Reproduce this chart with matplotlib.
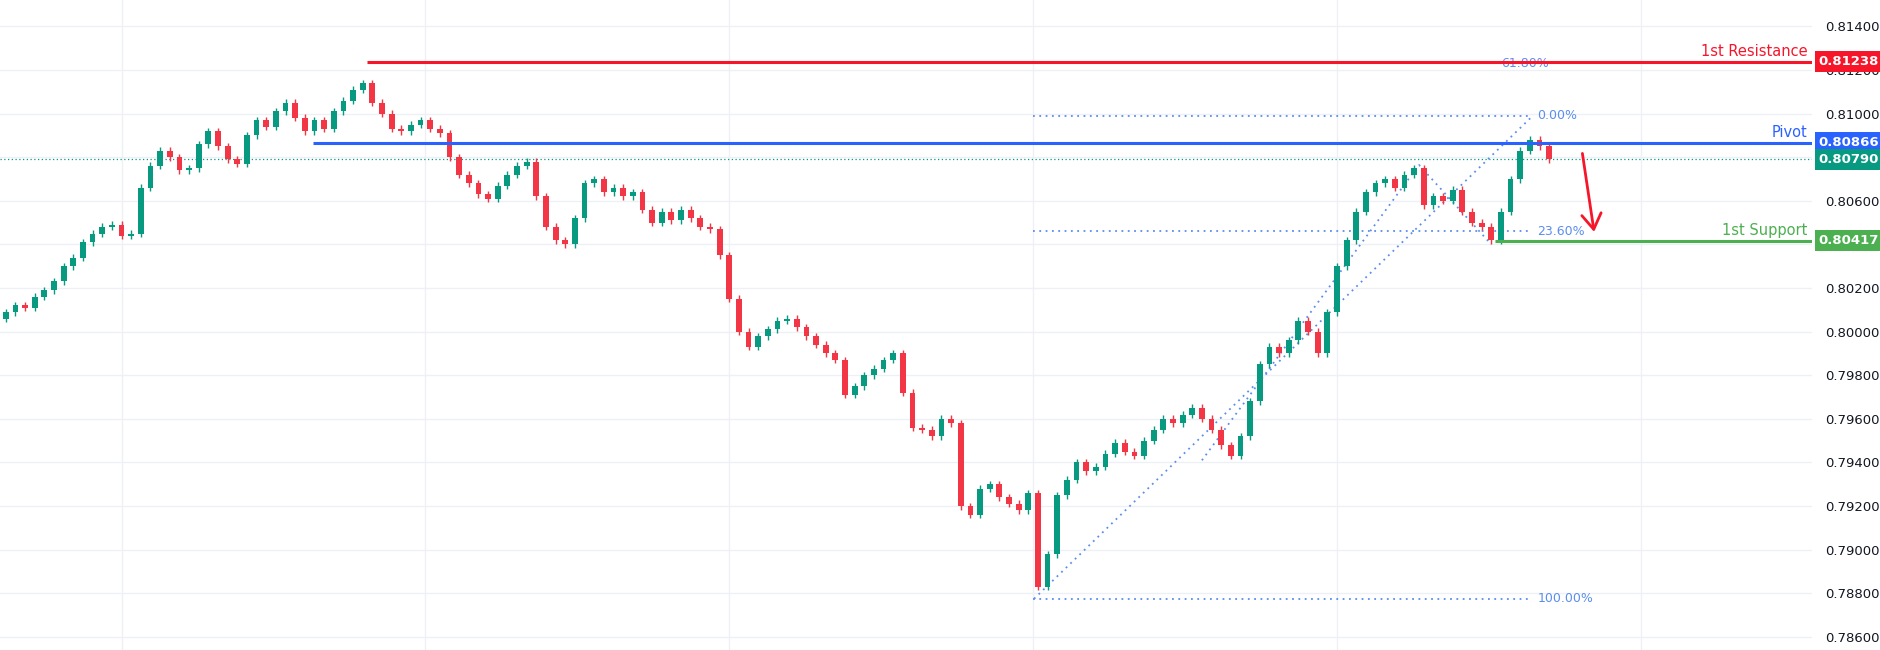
import numpy as np
import matplotlib.pyplot as plt
import matplotlib.transforms as mtransforms

# closing prices left to right
closes = [0.8009, 0.8012, 0.8011, 0.8016, 0.8019, 0.8023,
          0.8030, 0.8034, 0.8041, 0.8045, 0.8048,
          0.8049, 0.8044, 0.8045,
          0.8066, 0.8076, 0.8083,
          0.8080, 0.8074, 0.8075,
          0.8086, 0.8092,
          0.8085, 0.8079, 0.8077,
          0.8090, 0.8097,
          0.8094, 0.8101, 0.8105,
          0.8098, 0.8092,
          0.8097, 0.8093, 0.8101, 0.8106,
          0.8111, 0.8114,
          0.8105, 0.8100, 0.8093, 0.8092,
          0.8095, 0.8097, 0.8093, 0.8091,
          0.8080, 0.8072,
          0.8068, 0.8063, 0.8061,
          0.8067, 0.8072, 0.8076, 0.8078,
          0.8062, 0.8048,
          0.8042, 0.8040,
          0.8052, 0.8068,
          0.8070, 0.8064, 0.8066, 0.8062, 0.8064,
          0.8056, 0.8050,
          0.8055, 0.8051, 0.8056, 0.8052, 0.8048, 0.8047,
          0.8035, 0.8015,
          0.8000, 0.7993,
          0.7998, 0.8001, 0.8005, 0.8006,
          0.8002, 0.7998, 0.7994,
          0.7990, 0.7987,
          0.7971,
          0.7975, 0.7980,
          0.7983, 0.7987, 0.7990,
          0.7972,
          0.7956,
          0.7955, 0.7952, 0.7960, 0.7958,
          0.7920,
          0.7916,
          0.7928, 0.7930, 0.7924, 0.7921, 0.7918, 0.7926,
          0.7883,
          0.7898, 0.7925,
          0.7932, 0.7940, 0.7936, 0.7938,
          0.7944, 0.7949,
          0.7945, 0.7943,
          0.7950, 0.7955, 0.7960,
          0.7958, 0.7962, 0.7965, 0.7960,
          0.7955, 0.7948, 0.7943,
          0.7952, 0.7968, 0.7985, 0.7993,
          0.7990, 0.7996, 0.8005, 0.8000, 0.7990,
          0.8009, 0.8030, 0.8042, 0.8055, 0.8064,
          0.8068, 0.8070, 0.8066, 0.8072, 0.8075,
          0.8058, 0.8062, 0.8060, 0.8065, 0.8055, 0.8050, 0.8048, 0.8042,
          0.8055, 0.8070, 0.8083, 0.8088, 0.8085, 0.8079]
first_open = 0.8006
wick = 0.00016

resistance = 0.81238
pivot = 0.80866
support = 0.80417
last_price = 0.80790
fib_levels = [0.0, 23.6, 61.8, 100.0]
fib_prices = [0.80990, 0.80460, 0.81230, 0.78775]

opens = [first_open] + closes[:-1]
n = len(closes)
GREEN, RED, BLUE, SUP = '#089981', '#f23645', '#2962ff', '#4caf50'
FIB = '#5b8def'

fig = plt.figure(figsize=(18.8, 6.5), dpi=100)
ax = fig.add_axes([0, 0, 0.9636, 1])
ax.set_xlim(-0.6, 187.2)
ax.set_ylim(0.78540, 0.81521)

for i in range(n):
    o, c = opens[i], closes[i]
    col = GREEN if c >= o else RED
    ax.vlines(i, min(o, c) - wick, max(o, c) + wick, color=col, lw=1, zorder=3)
    ax.bar(i, max(abs(c - o), 0.00002), bottom=min(o, c), width=0.6, color=col, zorder=4)

# key levels
ax.hlines(resistance, 37.4, 187.2, color='#f7152a', lw=2.2, zorder=5)
ax.hlines(pivot, 31.8, 187.2, color=BLUE, lw=2.2, zorder=5)
ax.hlines(support, 154.4, 187.2, color=SUP, lw=2.2, zorder=5)
ax.axhline(last_price, color=GREEN, lw=0.9, ls=(0, (1, 2)), zorder=2)
ax.text(186.8, resistance + 0.00012, '1st Resistance', color='#f7152a', ha='right', va='bottom', fontsize=10.5)
ax.text(186.8, pivot + 0.00012, 'Pivot', color=BLUE, ha='right', va='bottom', fontsize=10.5)
ax.text(186.8, support + 0.00012, '1st Support', color=SUP, ha='right', va='bottom', fontsize=10.5)

# fibonacci retracement
dots = (0, (1, 2.5))
for lvl, p in zip(fib_levels, fib_prices):
    x0 = 146 if lvl == 61.8 else 106.5
    x1 = 154 if lvl == 61.8 else 158
    ax.hlines(p, x0, x1, color=FIB, lw=1.3, ls=dots, zorder=2)
    ax.text(x1 + 0.8 if lvl != 61.8 else 155, p, f'{lvl:.2f}%', color=FIB, fontsize=9, va='center')
ax.plot([106.6, 158.3], [0.78775, 0.80990], color=FIB, lw=1.3, ls=dots, zorder=2)
ax.plot([124, 146.5, 154], [0.79410, 0.80765, 0.80400], color=FIB, lw=1.3, ls=dots, zorder=2)

# projected move
ax.annotate('', xy=(164.7, 0.80445), xytext=(163.4, 0.80830),
            arrowprops=dict(arrowstyle='->,head_width=0.7,head_length=1.1', color='#f7152a', lw=2))

# axis styling
ticks = np.arange(0.786, 0.8141, 0.002)
ax.yaxis.tick_right()
ax.set_yticks(ticks)
ax.set_yticklabels(['' if abs(v - 0.804) < 1e-6 or abs(v - 0.808) < 1e-6 else f'{v:.5f}' for v in ticks])
ax.tick_params(axis='y', length=0, labelsize=9.5, labelcolor='#131722', pad=10)
ax.set_xticks(np.arange(12, 187, 31.5))
ax.tick_params(axis='x', length=0, labelbottom=False)
ax.grid(color='#eef0f5', lw=1)
for s in ax.spines.values():
    s.set_visible(False)

# price labels on the axis
trans = mtransforms.blended_transform_factory(ax.transAxes, ax.transData)
for p, col in [(resistance, '#f7152a'), (pivot, BLUE), (last_price, GREEN), (support, SUP)]:
    ax.text(1.004, p, f'{p:.5f}', transform=trans, color='white', fontsize=9.5, fontweight='bold',
            va='center', ha='left', zorder=10,
            bbox=dict(boxstyle='square,pad=0.3', fc=col, ec='none'))

fig.savefig('out.png')
